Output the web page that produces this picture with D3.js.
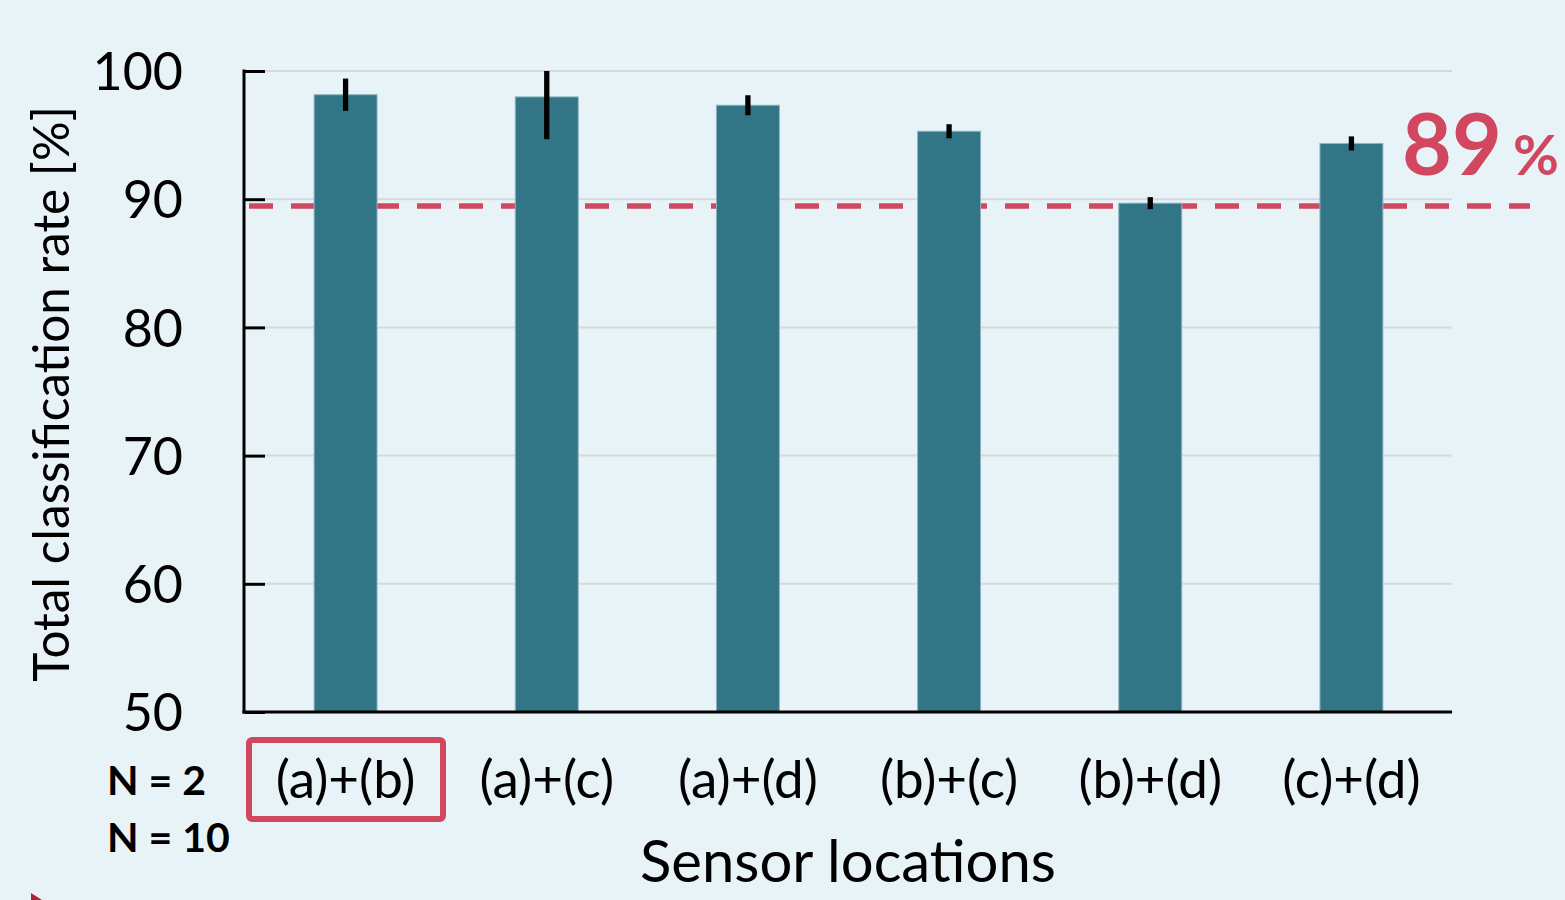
<!DOCTYPE html>
<html><head><meta charset="utf-8">
<script src="https://cdn.jsdelivr.net/npm/d3@7"></script>
<style>html,body{margin:0;padding:0;background:#E8F3F8;}svg{display:block;font-family:Lato,"Open Sans",sans-serif;}</style>
</head><body>
<svg id="chart" width="1565" height="900"></svg>
<script>
const categories = ["(a)+(b)", "(a)+(c)", "(a)+(d)", "(b)+(c)", "(b)+(d)", "(c)+(d)"];
const rates = [98.15, 97.98, 97.33, 95.3, 89.69, 94.35];
const errors = [1.26, 3.3, 0.78, 0.55, 0.47, 0.55];
const yTicks = [50, 60, 70, 80, 90, 100];
const threshold = 89.47;
const thresholdLabel = "89";
const nLabels = ["N = 2", "N = 10"];

const svg = d3.select("#chart");
const mLeft = 245, mRight = 1452, mTop = 71, mBottom = 712;
const red = "#D0475F", teal = "#327587";

svg.append("rect").attr("width",1565).attr("height",900).attr("fill","#E8F3F8");

const x = d3.scaleBand().domain(categories).range([mLeft, mRight]).paddingInner(0.687).paddingOuter(0.3435);
const y = d3.scaleLinear().domain([50, 100]).range([mBottom, mTop]);

// grid
svg.append("g").selectAll("line").data(yTicks.filter(d => d > 50)).join("line")
  .attr("x1", mLeft + 20).attr("x2", mRight).attr("y1", d => y(d)).attr("y2", d => y(d))
  .attr("stroke", "#d5d9dc").attr("stroke-width", 2);

// threshold dashed
svg.append("line").attr("x1", 249).attr("x2", 1530).attr("y1", y(threshold)).attr("y2", y(threshold))
  .attr("stroke", red).attr("stroke-width", 5.5).attr("stroke-dasharray", "24 18");

// bars
svg.append("g").selectAll("rect").data(categories).join("rect")
  .attr("x", d => x(d)).attr("width", x.bandwidth())
  .attr("y", (d, i) => y(rates[i])).attr("height", (d, i) => y(50) - y(rates[i]))
  .attr("fill", teal).attr("stroke", "#8db5c1").attr("stroke-width", 1);

// error bars
svg.append("g").selectAll("line").data(categories).join("line")
  .attr("x1", d => x(d) + x.bandwidth() / 2).attr("x2", d => x(d) + x.bandwidth() / 2)
  .attr("y1", (d, i) => y(Math.min(100, rates[i] + errors[i])))
  .attr("y2", (d, i) => y(rates[i] - errors[i]))
  .attr("stroke", "#000").attr("stroke-width", 5.3);

// y axis
const yAxis = d3.axisLeft(y).tickValues(yTicks).tickSize(-20).tickPadding(62).tickFormat(d3.format("d"));
const gy = svg.append("g").attr("transform", `translate(${mLeft},0)`).call(yAxis);
gy.select(".domain").remove();
gy.selectAll(".tick line").attr("stroke", "#000").attr("stroke-width", 3);
gy.selectAll(".tick text").attr("font-size", 52).attr("fill", "#000").attr("font-family", "Lato, sans-serif").attr("dy", "0.36em");
svg.append("line").attr("x1", mLeft - 1).attr("x2", mLeft - 1).attr("y1", mTop - 1.5).attr("y2", mBottom + 1.5).attr("stroke", "#000").attr("stroke-width", 3);

// x axis
const xAxis = d3.axisBottom(x).tickSize(0).tickPadding(50);
const gx = svg.append("g").attr("transform", `translate(0,${mBottom})`).call(xAxis);
gx.select(".domain").remove();
gx.selectAll(".tick text").attr("font-size", 53).attr("fill", "#000").attr("font-family", "Lato, sans-serif")
  .attr("y", 86).attr("dy", 0);
svg.append("line").attr("x1", mLeft - 2.5).attr("x2", mRight).attr("y1", mBottom).attr("y2", mBottom).attr("stroke", "#000").attr("stroke-width", 3);

// highlight box
svg.append("rect").attr("x", 249).attr("y", 740).attr("width", 194).attr("height", 79).attr("rx", 3)
  .attr("fill", "none").attr("stroke", red).attr("stroke-width", 6);

// N labels
svg.append("g").selectAll("text").data(nLabels).join("text")
  .attr("x", 107).attr("y", (d, i) => 795 + i * 57).attr("font-size", 41).attr("font-weight", "bold").attr("fill", "#000")
  .text(d => d);

// axis titles
svg.append("text").attr("x", 848).attr("y", 882).attr("text-anchor", "middle").attr("font-size", 58).attr("fill", "#000").text("Sensor locations");
svg.append("text").attr("transform", "translate(69,394) rotate(-90)").attr("text-anchor", "middle").attr("font-size", 49.5).attr("fill", "#000")
  .text("Total classification rate [%]");

// threshold label
svg.append("text").attr("x", 1402).attr("y", 175).attr("font-size", 86).attr("font-weight", "bold").attr("fill", red).text(thresholdLabel);
svg.append("text").attr("x", 1513).attr("y", 175).attr("font-size", 56).attr("font-weight", "bold").attr("fill", red).text("%");

// small corner marker
svg.append("path").attr("d", "M31,893 L42,900 L31,900 Z").attr("fill", "#a8243e");
</script>
</body></html>
